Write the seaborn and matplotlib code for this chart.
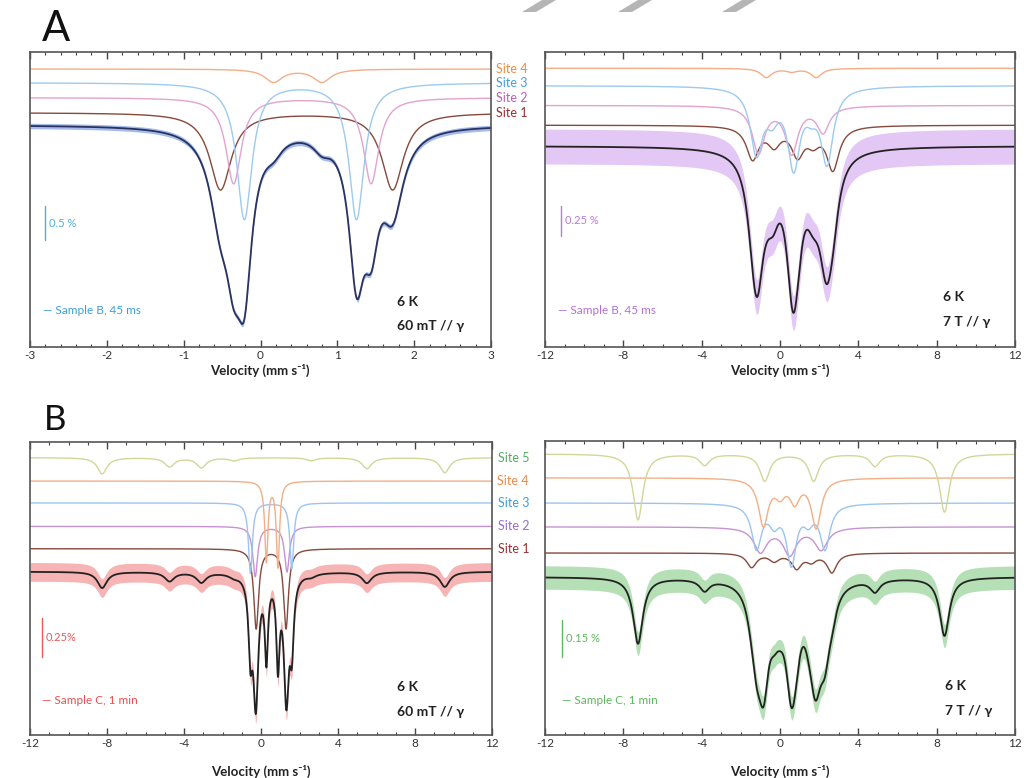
import numpy as np
import pandas as pd
import matplotlib
matplotlib.use("Agg")
import matplotlib.pyplot as plt
import matplotlib.transforms as mtransforms
from matplotlib.patches import Polygon
from matplotlib.ticker import MultipleLocator
import seaborn as sns

# ---------------- values ----------------
# line positions in mm/s, line depths in % absorption, HWHM in mm/s

# A, 60 mT, Sample B 45 ms
A60_S1_POS = [-0.52, 1.72]
A60_S1_DEPTH = [1.13, 1.13]
A60_S2_POS = [-0.35, 1.44]
A60_S2_DEPTH = [1.26, 1.26]
A60_S3_POS = [-0.21, 1.25]
A60_S3_DEPTH = [2.0, 2.0]
A60_S4_POS = [0.17, 0.80]
A60_S4_DEPTH = [0.19, 0.19]
A60_HWHM = [0.17, 0.12, 0.12, 0.14]
A60_OFFSETS = [0.18, 0.40, 0.62, 0.82]
A60_NOISE = 0.04

# A, 7 T, Sample B 45 ms
A7_S1_POS = [-1.4, -0.3, 0.9, 1.7, 2.7]
A7_S1_DEPTH = [0.28, 0.15, 0.24, 0.12, 0.37]
A7_S2_POS = [-1.1, 0.6, 2.2]
A7_S2_DEPTH = [0.40, 0.40, 0.22]
A7_S3_POS = [-1.2, -0.4, 0.7, 1.6, 2.4]
A7_S3_DEPTH = [0.55, 0.20, 0.66, 0.14, 0.63]
A7_S4_POS = [-0.7, 0.6, 1.85]
A7_S4_DEPTH = [0.078, 0.026, 0.078]
A7_HWHM = [0.38, 0.38, 0.38, 0.34]
A7_OFFSETS = [0.18, 0.35, 0.52, 0.67]
A7_NOISE = 0.15

# B, 60 mT, Sample C 1 min
B60_S1_POS = [-0.25, 1.3]
B60_S1_DEPTH = [0.51, 0.51]
B60_S2_POS = [-0.3, 1.35]
B60_S2_DEPTH = [0.32, 0.29]
B60_S3_POS = [-0.55, 1.6]
B60_S3_DEPTH = [0.45, 0.42]
B60_S4_POS = [0.28, 0.88]
B60_S4_DEPTH = [0.51, 0.545]
B60_S5_POS = [-8.25, -4.75, -3.1, -1.4, 2.6, 5.5, 9.55]
B60_S5_DEPTH = [0.103, 0.058, 0.064, 0.019, 0.019, 0.07, 0.096]
B60_HWHM = [0.15, 0.15, 0.12, 0.10, 0.30]
B60_OFFSETS = [0.147, 0.29, 0.44, 0.58, 0.73]
B60_NOISE = 0.06

# B, 7 T, Sample C 1 min
B7_S1_POS = [-1.45, -0.3, 0.85, 1.6, 2.65]
B7_S1_DEPTH = [0.057, 0.03, 0.06, 0.03, 0.078]
B7_S2_POS = [-1.0, 0.5, 2.1]
B7_S2_DEPTH = [0.10, 0.11, 0.09]
B7_S3_POS = [-1.2, -0.3, 0.58, 1.45, 2.3]
B7_S3_DEPTH = [0.18, 0.07, 0.24, 0.06, 0.18]
B7_S4_POS = [-0.85, 0.0, 0.75, 1.85]
B7_S4_DEPTH = [0.19, 0.06, 0.09, 0.20]
B7_S5_POS = [-7.25, -3.85, -0.78, 1.72, 4.85, 8.4]
B7_S5_DEPTH = [0.27, 0.045, 0.11, 0.11, 0.049, 0.238]
B7_HWHM = [0.30, 0.40, 0.30, 0.30, 0.30]
B7_OFFSETS = [0.098, 0.205, 0.303, 0.406, 0.504]
B7_NOISE = 0.048

SITE_NAMES = ["Site 1", "Site 2", "Site 3", "Site 4", "Site 5"]

# ---------------- style ----------------
sns.set_style("white")
plt.rcParams["font.family"] = ["Lato", "DejaVu Sans"]
plt.rcParams["axes.unicode_minus"] = False

SITE_LINE = ["#86493c", "#e2a3cf", "#9ccaf0", "#f3ae86", "#d3d69a"]
SITE_LABEL = ["#9b2f2f", "#bb62b3", "#3f9fe0", "#f08a45", "#4fb060"]
SITE_LINE_B = ["#86493c", "#c792d4", "#9cc4f0", "#f3ae86", "#d3d69a"]
SITE_LABEL_B = ["#9b2f2f", "#9a6ad0", "#3f9fe0", "#f08a45", "#4fb060"]

W, H = 1024, 778
fig = plt.figure(figsize=(W / 100, H / 100), dpi=100)


def rect(left, top, right, bottom):
    return [left / W, 1 - bottom / H, (right - left) / W, (bottom - top) / H]


def absorption(v, pos, depth, hwhm):
    y = np.zeros_like(v)
    for p, d in zip(pos, depth):
        y -= d / (1.0 + ((v - p) / hwhm) ** 2)
    return y


def draw_panel(ax, v, sites, hwhm, offsets, line_cols, data_col, fit_col, noise,
               xlim, ylim, major, minor, data_alpha=0.45):
    comps = [absorption(v, p, d, w) for (p, d), w in zip(sites, hwhm)]
    fit = np.sum(comps, axis=0)
    df = pd.DataFrame({"velocity": v, "fit": fit})
    ax.fill_between(df["velocity"], df["fit"] - noise, df["fit"] + noise,
                     color=data_col, alpha=data_alpha, lw=0)
    sns.lineplot(data=df, x="velocity", y="fit", color=fit_col, lw=1.3,
                 estimator=None, sort=False, ax=ax)
    for comp, off, c in zip(comps, offsets, line_cols):
        sns.lineplot(x=v, y=comp + off, color=c, lw=1.0,
                     estimator=None, sort=False, ax=ax)
    ax.set_xlim(*xlim)
    ax.set_ylim(*ylim)
    ax.xaxis.set_major_locator(MultipleLocator(major))
    ax.xaxis.set_minor_locator(MultipleLocator(minor))
    ax.tick_params(axis="x", which="both", direction="in", top=True, bottom=True,
                   labelsize=8.5, pad=2.5, colors="#444", labelcolor="#333")
    ax.tick_params(axis="x", which="major", length=5, width=1)
    ax.tick_params(axis="x", which="minor", length=2.5, width=0.8)
    ax.tick_params(axis="y", left=False, labelleft=False)
    ax.set_xlabel("")
    ax.set_ylabel("")
    for s in ax.spines.values():
        s.set_color("#555")
        s.set_linewidth(1.2)


def fig_text(x, y, s, **kw):
    fig.text(x / W, 1 - y / H, s, **kw)


def scale_bar(ax, xfrac, y0, length, label, color):
    tr = mtransforms.blended_transform_factory(ax.transAxes, ax.transData)
    ax.plot([xfrac, xfrac], [y0, y0 + length], color=color, lw=1.0,
            transform=tr, clip_on=False)
    ax.text(xfrac + 0.008, y0 + length / 2, label, color=color, fontsize=8,
            transform=tr, ha="left", va="center")


def site_labels(ax, offsets, colors):
    tr = mtransforms.blended_transform_factory(ax.transAxes, ax.transData)
    for name, off, c in zip(SITE_NAMES, offsets, colors):
        ax.text(1.046, off, name, color=c, fontsize=9, ha="center", va="center",
                transform=tr, clip_on=False)


v_narrow = np.linspace(-3, 3, 1500)
v_wide = np.linspace(-12, 12, 3000)

# ---- A, 60 mT ----
ax1 = fig.add_axes(rect(30, 52, 491, 347))
draw_panel(ax1, v_narrow,
           [(A60_S1_POS, A60_S1_DEPTH), (A60_S2_POS, A60_S2_DEPTH),
            (A60_S3_POS, A60_S3_DEPTH), (A60_S4_POS, A60_S4_DEPTH)],
           A60_HWHM, A60_OFFSETS, SITE_LINE[:4], "#6a8fe0", "#2a3260", A60_NOISE,
           (-3, 3), (-3.26, 1.07), 1, 0.2, data_alpha=0.6)
site_labels(ax1, A60_OFFSETS, SITE_LABEL[:4])
scale_bar(ax1, 0.033, -1.69, 0.5, "0.5 %", "#4aaee2")

# ---- A, 7 T ----
ax2 = fig.add_axes(rect(545, 52, 1015, 347))
draw_panel(ax2, v_wide,
           [(A7_S1_POS, A7_S1_DEPTH), (A7_S2_POS, A7_S2_DEPTH),
            (A7_S3_POS, A7_S3_DEPTH), (A7_S4_POS, A7_S4_DEPTH)],
           A7_HWHM, A7_OFFSETS, SITE_LINE[:4], "#c383e8", "#222222", A7_NOISE,
           (-12, 12), (-1.73, 0.81), 4, 1)
scale_bar(ax2, 0.034, -0.77, 0.25, "0.25 %", "#b77ad8")

# ---- B, 60 mT ----
ax3 = fig.add_axes(rect(30, 442, 492, 735))
draw_panel(ax3, v_wide,
           [(B60_S1_POS, B60_S1_DEPTH), (B60_S2_POS, B60_S2_DEPTH),
            (B60_S3_POS, B60_S3_DEPTH), (B60_S4_POS, B60_S4_DEPTH),
            (B60_S5_POS, B60_S5_DEPTH)],
           B60_HWHM, B60_OFFSETS, SITE_LINE_B, "#ee5a5a", "#222222", B60_NOISE,
           (-12, 12), (-1.045, 0.83), 4, 1)
site_labels(ax3, B60_OFFSETS, SITE_LABEL_B)
scale_bar(ax3, 0.026, -0.545, 0.25, "0.25%", "#e65a5a")

# ---- B, 7 T ----
ax4 = fig.add_axes(rect(545, 441, 1015, 735))
draw_panel(ax4, v_wide,
           [(B7_S1_POS, B7_S1_DEPTH), (B7_S2_POS, B7_S2_DEPTH),
            (B7_S3_POS, B7_S3_DEPTH), (B7_S4_POS, B7_S4_DEPTH),
            (B7_S5_POS, B7_S5_DEPTH)],
           B7_HWHM, B7_OFFSETS, SITE_LINE_B, "#5cb85c", "#222222", B7_NOISE,
           (-12, 12), (-0.648, 0.557), 4, 1)
scale_bar(ax4, 0.036, -0.328, 0.15, "0.15 %", "#5cb85c")

# ---- annotations ----
xlab = "Velocity (mm s\u207b\u00b9)"
for xc, yc in [(260, 370), (780, 370), (261, 771), (780, 771)]:
    fig_text(xc, yc, xlab, fontsize=9.5, fontweight="bold", ha="center",
             va="center", color="#222")

fig_text(42, 29, "A", fontsize=30, ha="left", va="center", color="#111")
fig_text(44, 420, "B", fontsize=25, ha="left", va="center", color="#111")

for x, y, s, c in [(43, 310, "\u2014 Sample B, 45 ms", "#3aa0d8"),
                   (558, 310, "\u2014 Sample B, 45 ms", "#b070d8"),
                   (42, 700, "\u2014 Sample C, 1 min", "#e85050"),
                   (562, 700, "\u2014 Sample C, 1 min", "#5cb85c")]:
    fig_text(x, y, s, fontsize=8.5, color=c, ha="left", va="center")

for x, y1, y2, field in [(397, 302, 326, "60 mT // \u03b3"),
                         (943, 297, 322, "7 T // \u03b3"),
                         (397, 687, 712, "60 mT // \u03b3"),
                         (945, 686, 711, "7 T // \u03b3")]:
    fig_text(x, y1, "6 K", fontsize=10, fontweight="bold", ha="left",
             va="center", color="#222")
    fig_text(x, y2, field, fontsize=10, fontweight="bold", ha="left",
             va="center", color="#222")

# grey slashes along the top edge
for x0 in [522, 618, 722]:
    pts = [(x0, 12), (x0 + 14, 12), (x0 + 34, 0), (x0 + 20, 0)]
    fig.patches.append(Polygon([(px / W, 1 - py / H) for px, py in pts],
                               closed=True, transform=fig.transFigure,
                               color="#b5b5b5", lw=0))

fig.savefig("out.png", dpi=100)
